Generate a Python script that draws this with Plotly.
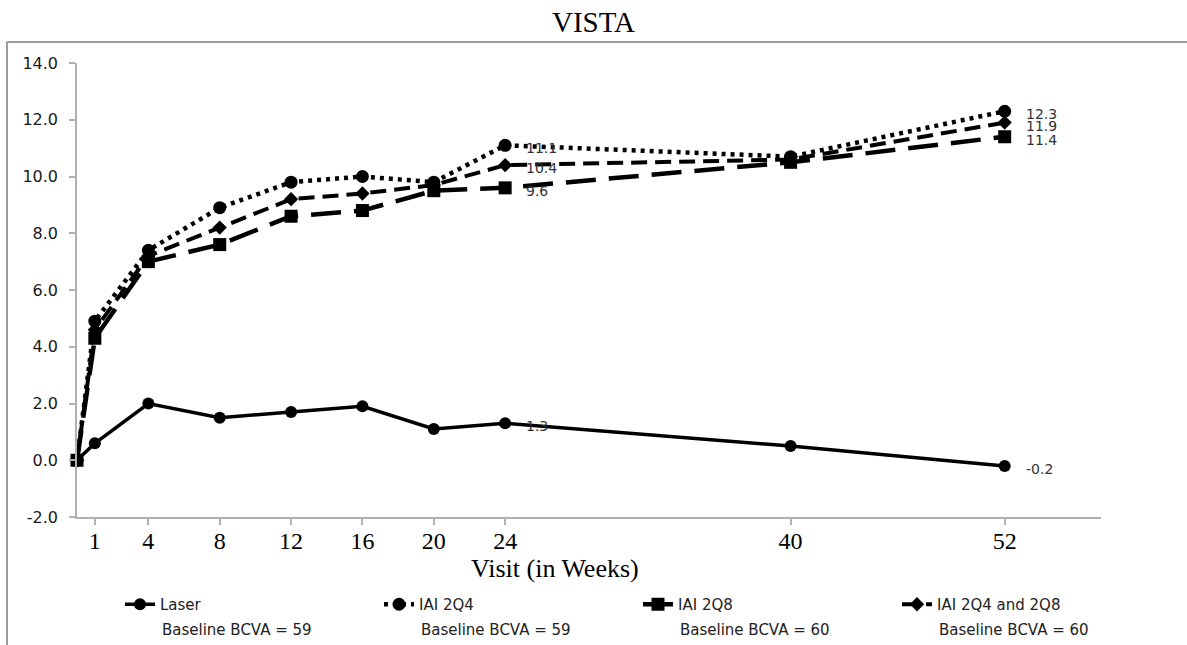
import plotly.graph_objects as go

# Mean change in BCVA (letters) by visit week, VISTA study
weeks = [0, 1, 4, 8, 12, 16, 20, 24, 40, 52]
tick_weeks = [1, 4, 8, 12, 16, 20, 24, 40, 52]
y_ticks = [-2, 0, 2, 4, 6, 8, 10, 12, 14]
laser = [0.0, 0.6, 2.0, 1.5, 1.7, 1.9, 1.1, 1.3, 0.5, -0.2]
iai_2q4 = [0.0, 4.9, 7.4, 8.9, 9.8, 10.0, 9.8, 11.1, 10.7, 12.3]
iai_2q8 = [0.0, 4.3, 7.0, 7.6, 8.6, 8.8, 9.5, 9.6, 10.5, 11.4]
iai_pooled = [0.0, 4.6, 7.2, 8.2, 9.2, 9.4, 9.7, 10.4, 10.6, 11.9]
series_names = ["Laser", "IAI 2Q4", "IAI 2Q8", "IAI 2Q4 and 2Q8"]
baseline_bcva = [59, 59, 60, 60]
labelled_weeks = [24, 52]

W, H = 1187, 645
ML, MR, MT, MB = 77, 86, 63, 128
PW, PH = W - ML - MR, H - MT - MB

LEGEND_LEFT = 120      # left edge of first legend entry (px)
ENTRY_W = 214          # legend entry width setting
ENTRY_STEP = ENTRY_W + 45


def px_x(p):
    """Figure pixel column -> paper x."""
    return (p - ML) / PW


def px_y(p):
    """Figure pixel row -> paper y."""
    return (H - MB - p) / PH


styles = [
    dict(dash="solid", width=3.5, symbol="circle", size=12),
    dict(dash="4px,5px", width=4.5, symbol="circle", size=13),
    dict(dash="30px,13px", width=4.5, symbol="square", size=13),
    dict(dash="16px,8px", width=4, symbol="diamond", size=11),
]
series = [laser, iai_2q4, iai_2q8, iai_pooled]

fig = go.Figure()
for name, vals, st in zip(series_names, series, styles):
    fig.add_trace(go.Scatter(
        x=weeks, y=vals, name=name, mode="lines+markers",
        line=dict(color="black", width=st["width"], dash=st["dash"]),
        marker=dict(color="black", symbol=st["symbol"], size=st["size"]),
        cliponaxis=False,
    ))

# value labels at weeks 24 and 52
label_font = dict(family="DejaVu Sans", size=14, color="#333333")
for vals in series:
    for wk in labelled_weeks:
        v = vals[weeks.index(wk)]
        fig.add_annotation(
            x=wk, y=v, xref="x", yref="y", text=f"{v:.1f}", showarrow=False,
            xanchor="left", yanchor="middle", xshift=19, yshift=-3, font=label_font,
        )

# second line of each legend entry
for i, b in enumerate(baseline_bcva):
    fig.add_annotation(
        x=px_x(LEGEND_LEFT + 40 + i * ENTRY_STEP), y=px_y(630), xref="paper", yref="paper",
        text=f"Baseline BCVA = {b}", showarrow=False, xanchor="left", yanchor="middle",
        font=dict(family="DejaVu Sans", size=15, color="#222222"),
    )

# x-axis title
fig.add_annotation(
    x=px_x(555), y=px_y(568), xref="paper", yref="paper", text="Visit (in Weeks)",
    showarrow=False, xanchor="center", yanchor="middle",
    font=dict(family="Liberation Serif", size=26, color="black"),
)

# outer frame (top and left edges)
frame = dict(color="#9a9a9a", width=2)
fig.add_shape(type="line", xref="paper", yref="paper",
              x0=px_x(7), x1=px_x(W + 5), y0=px_y(42), y1=px_y(42), line=frame)
fig.add_shape(type="line", xref="paper", yref="paper",
              x0=px_x(7), x1=px_x(7), y0=px_y(42), y1=px_y(H + 5), line=frame)

fig.update_layout(
    width=W, height=H,
    margin=dict(l=ML, r=MR, t=MT, b=MB, autoexpand=False),
    paper_bgcolor="white", plot_bgcolor="white",
    title=dict(text="VISTA", x=0.5, xref="container", xanchor="center",
               y=1 - 22 / H, yref="container", yanchor="middle",
               font=dict(family="Liberation Serif", size=29, color="black")),
    showlegend=True,
    legend=dict(
        orientation="h", x=px_x(LEGEND_LEFT + 4 * ENTRY_STEP), y=px_y(588),
        xanchor="right", yanchor="top",
        font=dict(family="DejaVu Sans", size=15, color="#222222"),
        entrywidth=ENTRY_W, entrywidthmode="pixels", valign="top",
        bgcolor="rgba(0,0,0,0)", traceorder="normal",
    ),
    xaxis=dict(
        range=[0, 57.4], tickmode="array", tickvals=tick_weeks,
        ticktext=[str(t) for t in tick_weeks],
        showline=True, linecolor="#b0b0b0", linewidth=1.5,
        ticks="outside", ticklen=6, tickcolor="#b0b0b0", tickwidth=1.5,
        showgrid=False, zeroline=False, ticklabelstandoff=-5,
        tickfont=dict(family="Liberation Serif", size=24, color="black"),
    ),
    yaxis=dict(
        range=[-2, 14], tickmode="array", tickvals=y_ticks,
        ticktext=[f"{t:.1f}" for t in y_ticks],
        showline=True, linecolor="#b0b0b0", linewidth=1.5,
        ticks="outside", ticklen=6, tickcolor="#b0b0b0", tickwidth=1.5,
        showgrid=False, zeroline=False, ticklabelstandoff=8,
        tickfont=dict(family="DejaVu Sans", size=16, color="#1a1a1a"),
    ),
)

fig.write_html("out.html")
